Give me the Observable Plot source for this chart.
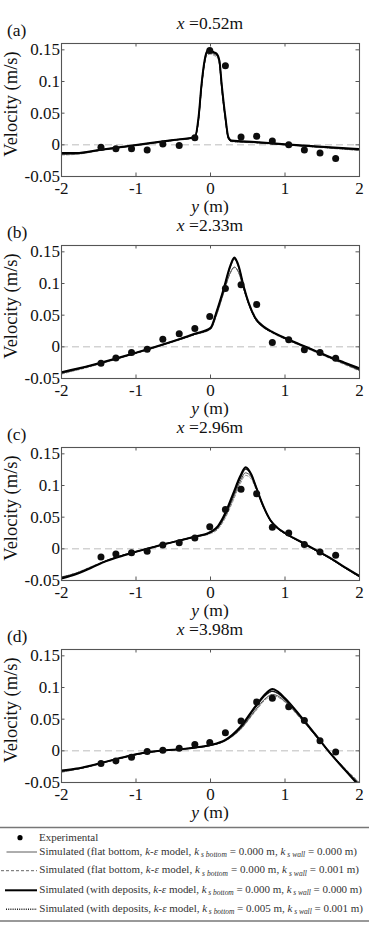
<!DOCTYPE html>
<html>
<head>
<meta charset="utf-8">
<script src="https://cdn.jsdelivr.net/npm/d3@7"></script>
<script src="https://cdn.jsdelivr.net/npm/@observablehq/plot@0.6"></script>
<style>
  html, body { margin: 0; padding: 0; background: #fff; }
  #page { position: relative; width: 369px; height: 937px; overflow: hidden; font-family: "Liberation Serif", serif; }
  #page > svg { position: absolute; left: 0; }
</style>
</head>
<body>
<div id="page"></div>
<script>
// Cross-stream velocity profiles at four stations along the flume.
const panelLetters = ["(a)", "(b)", "(c)", "(d)"];
const stations = ["0.52", "2.33", "2.96", "3.98"];
const xTicks = [-2, -1, 0, 1, 2];
const yTicks = [-0.05, 0, 0.05, 0.1, 0.15];

// Measurement positions across the channel (m)
const expPos = [-1.47, -1.27, -1.06, -0.85, -0.64, -0.42, -0.21, -0.01, 0.2, 0.41, 0.62, 0.83, 1.05, 1.26, 1.47, 1.68];
const expA = [-0.004, -0.006, -0.006, -0.008, 0.0015, -0.001, 0.011, 0.149, 0.125, 0.0125, 0.0135, 0.006, 0.0, -0.008, -0.013, -0.0215];
const expB = [-0.026, -0.0175, -0.009, -0.004, 0.012, 0.0205, 0.029, 0.048, 0.092, 0.098, 0.067, 0.007, 0.011, -0.0045, -0.009, -0.018];
const expC = [-0.013, -0.008, -0.006, -0.004, 0.006, 0.0095, 0.017, 0.035, 0.062, 0.094, 0.087, 0.034, 0.025, 0.007, -0.005, -0.010];
const expD = [-0.020, -0.016, -0.010, -0.001, 0.001, 0.004, 0.010, 0.013, 0.0285, 0.047, 0.077, 0.083, 0.0695, 0.048, 0.016, -0.002];

// Simulated profiles, station (a)
const simPosA = [-2, -1.8, -1.5, -1.0, -0.5, -0.21, -0.16, -0.12, -0.08, -0.045, 0, 0.05, 0.09, 0.12, 0.15, 0.2, 0.24, 0.28, 0.6, 1.0, 1.5, 2.0];
const flat0A = [-0.015, -0.0145, -0.009, -0.001, 0.007, 0.0115, 0.040, 0.092, 0.129, 0.144, 0.145, 0.143, 0.140, 0.128, 0.090, 0.040, 0.010, 0.0055, 0.0035, 0.0, -0.004, -0.0085];
const flat1A = [-0.016, -0.015, -0.0095, -0.0015, 0.0065, 0.011, 0.038, 0.090, 0.127, 0.142, 0.143, 0.141, 0.138, 0.126, 0.088, 0.038, 0.009, 0.005, 0.003, -0.0005, -0.0045, -0.009];
const dep0A = [-0.013, -0.013, -0.0082, -0.0002, 0.0078, 0.0125, 0.044, 0.096, 0.133, 0.148, 0.148, 0.146, 0.143, 0.133, 0.096, 0.044, 0.012, 0.0068, 0.0045, 0.001, -0.003, -0.0065];
const dep1A = [-0.014, -0.0135, -0.0085, -0.0005, 0.0075, 0.012, 0.042, 0.094, 0.131, 0.146, 0.147, 0.145, 0.142, 0.131, 0.094, 0.042, 0.011, 0.006, 0.004, 0.0005, -0.0035, -0.0075];

// Simulated profiles, station (b)
const simPosB = [-2, -1.6, -1.2, -0.8, -0.4, -0.2, 0, 0.085, 0.175, 0.265, 0.32, 0.377, 0.444, 0.511, 0.6, 0.713, 0.825, 1.0, 1.2, 1.4, 1.6, 1.8, 2.0];
const flat0B = [-0.042, -0.030, -0.017, -0.003, 0.012, 0.020, 0.028, 0.052, 0.085, 0.117, 0.126, 0.118, 0.092, 0.068, 0.045, 0.031, 0.023, 0.013, 0.003, -0.007, -0.017, -0.027, -0.037];
const flat1B = [-0.043, -0.031, -0.0175, -0.0035, 0.0115, 0.0195, 0.0275, 0.051, 0.084, 0.116, 0.125, 0.117, 0.091, 0.067, 0.044, 0.030, 0.022, 0.012, 0.002, -0.008, -0.018, -0.028, -0.038];
const dep0B = [-0.040, -0.029, -0.016, -0.002, 0.013, 0.021, 0.030, 0.057, 0.091, 0.128, 0.141, 0.128, 0.096, 0.070, 0.046, 0.032, 0.024, 0.014, 0.004, -0.006, -0.016, -0.025, -0.034];
const dep1B = [-0.041, -0.0295, -0.0165, -0.0025, 0.0125, 0.0205, 0.029, 0.055, 0.089, 0.126, 0.139, 0.126, 0.095, 0.069, 0.045, 0.031, 0.0235, 0.0135, 0.0035, -0.0065, -0.0165, -0.026, -0.036];

// Simulated profiles, station (c)
const simPosC = [-2, -1.8, -1.6, -1.4, -1.2, -1.0, -0.8, -0.6, -0.4, -0.2, 0, 0.1, 0.2, 0.3, 0.4, 0.47, 0.55, 0.6, 0.7, 0.8, 0.9, 1.0, 1.2, 1.4, 1.6, 1.8, 2.0];
const flat0C = [-0.046, -0.039, -0.029, -0.019, -0.011, -0.0045, 0.0018, 0.008, 0.0135, 0.019, 0.025, 0.033, 0.052, 0.079, 0.107, 0.120, 0.113, 0.099, 0.069, 0.045, 0.032, 0.024, 0.011, -0.002, -0.015, -0.030, -0.044];
const flat1C = [-0.045, -0.038, -0.028, -0.0185, -0.0105, -0.004, 0.002, 0.0082, 0.0135, 0.0188, 0.024, 0.031, 0.049, 0.075, 0.103, 0.116, 0.110, 0.097, 0.068, 0.045, 0.032, 0.024, 0.011, -0.002, -0.015, -0.029, -0.042];
const dep0C = [-0.047, -0.040, -0.030, -0.0195, -0.0116, -0.0047, 0.0016, 0.0079, 0.0137, 0.0195, 0.0268, 0.036, 0.057, 0.086, 0.115, 0.129, 0.117, 0.1016, 0.070, 0.046, 0.033, 0.025, 0.012, -0.001, -0.014, -0.029, -0.043];
const dep1C = [-0.045, -0.0385, -0.029, -0.019, -0.011, -0.0045, 0.0018, 0.008, 0.0137, 0.0195, 0.026, 0.035, 0.055, 0.083, 0.112, 0.126, 0.116, 0.101, 0.070, 0.046, 0.033, 0.0245, 0.0115, -0.0015, -0.0145, -0.0295, -0.044];

// Simulated profiles, station (d)
const simPosD = [-2, -1.8, -1.6, -1.4, -1.2, -1.0, -0.8, -0.6, -0.4, -0.2, 0, 0.2, 0.4, 0.6, 0.75, 0.83, 0.9, 1.0, 1.2, 1.4, 1.6, 1.8, 2.0];
const flat0D = [-0.033, -0.029, -0.024, -0.0175, -0.0115, -0.006, -0.002, 0.0008, 0.0025, 0.005, 0.0085, 0.016, 0.034, 0.064, 0.084, 0.089, 0.087, 0.078, 0.053, 0.025, -0.003, -0.028, -0.052];
const flat1D = [-0.034, -0.0295, -0.0245, -0.018, -0.012, -0.0063, -0.0022, 0.0006, 0.0023, 0.0048, 0.0082, 0.0155, 0.033, 0.062, 0.082, 0.087, 0.085, 0.077, 0.052, 0.025, -0.002, -0.027, -0.050];
const dep0D = [-0.031, -0.028, -0.023, -0.017, -0.011, -0.0054, -0.0016, 0.001, 0.0027, 0.0054, 0.0091, 0.0172, 0.0376, 0.070, 0.0914, 0.0978, 0.094, 0.083, 0.056, 0.027, -0.0027, -0.0296, -0.056];
const dep1D = [-0.032, -0.0285, -0.0235, -0.0172, -0.0112, -0.0057, -0.0018, 0.0009, 0.0026, 0.0052, 0.0089, 0.017, 0.036, 0.068, 0.089, 0.094, 0.091, 0.081, 0.055, 0.026, -0.0025, -0.029, -0.054];

// Legend entries
const legendCases = ["flat bottom", "flat bottom", "with deposits", "with deposits"];
const legendKsBottom = ["0.000", "0.000", "0.000", "0.005"];
const legendKsWall = ["0.000", "0.001", "0.000", "0.001"];

const panels = [
  {exp: expA, pos: simPosA, sims: [flat0A, flat1A, dep0A, dep1A]},
  {exp: expB, pos: simPosB, sims: [flat0B, flat1B, dep0B, dep1B]},
  {exp: expC, pos: simPosC, sims: [flat0C, flat1C, dep0C, dep1C]},
  {exp: expD, pos: simPosD, sims: [flat0D, flat1D, dep0D, dep1D]}
];

// line styles: flat/0, flat/0.001, deposits/0, deposits/0.005
const lineStyles = [
  {stroke: "#4a4a4a", strokeWidth: 1},
  {stroke: "#8c8c8c", strokeWidth: 1, strokeDasharray: "3,2"},
  {stroke: "#000", strokeWidth: 2},
  {stroke: "#1a1a1a", strokeWidth: 1.5, strokeDasharray: "1,1.2"}
];
const drawOrder = [1, 0, 3, 2];

const W = 369, ML = 61, MR = 10, MT = 5, IH = 133, MB = 45;
const IW = W - ML - MR;
const STEP = 202;
const font = "'Liberation Serif', 'Times New Roman', serif";
const fmt = d => String(d);

const page = document.getElementById("page");

// Overlay for titles, panel letters, axis labels and legend
const overlay = d3.select(page).append("svg")
  .attr("width", W).attr("height", 937)
  .style("top", "0px")
  .style("font-family", font)
  .attr("fill", "#111");

panels.forEach((p, i) => {
  const off = STEP * i;
  const marks = [Plot.ruleY([0], {stroke: "#bdbdbd", strokeWidth: 1, strokeDasharray: "7,4"})];
  drawOrder.forEach(k => {
    const rows = p.sims[k].map((v, j) => ({y: p.pos[j], v}));
    marks.push(Plot.line(rows, {x: "y", y: "v", curve: "monotone-x", clip: true, ...lineStyles[k]}));
  });
  marks.push(Plot.dot(p.exp.map((v, j) => ({y: expPos[j], v})), {x: "y", y: "v", r: 3.5, fill: "#0d0d0d", stroke: "none"}));
  marks.push(Plot.frame({stroke: "#555", strokeWidth: 1.1}));
  marks.push(Plot.tickX(xTicks, {x: d => d, insetTop: IH - 3.5, stroke: "#555"}));
  marks.push(Plot.tickX(xTicks, {x: d => d, insetBottom: IH - 3.5, stroke: "#555"}));
  marks.push(Plot.tickY(yTicks, {y: d => d, insetRight: IW - 3.5, stroke: "#555"}));
  marks.push(Plot.tickY(yTicks, {y: d => d, insetLeft: IW - 3.5, stroke: "#555"}));
  marks.push(Plot.axisX({ticks: xTicks, tickFormat: fmt, tickSize: 0, tickPadding: 5.5, label: null, fontSize: 17, fill: "#111"}));
  marks.push(Plot.axisY({ticks: yTicks, tickFormat: fmt, tickSize: 0, tickPadding: 1.5, label: null, fontSize: 17, fill: "#111"}));

  const chart = Plot.plot({
    width: W, height: MT + IH + MB,
    marginLeft: ML, marginRight: MR, marginTop: MT, marginBottom: MB,
    x: {domain: [-2, 2]},
    y: {domain: [-0.05, 0.16]},
    style: {fontFamily: font, fontSize: "17px", background: "transparent", color: "#111", overflow: "visible"},
    marks
  });
  chart.style.top = (38 + off) + "px";
  page.appendChild(chart);

  // station title
  const t = overlay.append("text").attr("x", ML + IW / 2).attr("y", 29 + off)
    .attr("text-anchor", "middle").attr("font-size", 17.5);
  t.append("tspan").attr("font-style", "italic").text("x");
  t.append("tspan").text(" =" + stations[i] + "m");

  overlay.append("text").attr("x", 7).attr("y", 36 + off).attr("font-size", 17.5).text(panelLetters[i]);

  const xl = overlay.append("text").attr("x", ML + IW / 2).attr("y", 212 + off)
    .attr("text-anchor", "middle").attr("font-size", 17.5);
  xl.append("tspan").attr("font-style", "italic").text("y");
  xl.append("tspan").text(" (m)");

  overlay.append("text")
    .attr("transform", `translate(16.5,${104 + off}) rotate(-90)`)
    .attr("text-anchor", "middle").attr("font-size", 18.5)
    .text("Velocity (m/s)");
});

// Legend
const lg = overlay.append("g").attr("font-size", 11).attr("fill", "#333");
lg.append("line").attr("x1", 0).attr("x2", W).attr("y1", 827.5).attr("y2", 827.5).attr("stroke", "#777").attr("stroke-width", 1.5);
lg.append("line").attr("x1", 0).attr("x2", W).attr("y1", 921).attr("y2", 921).attr("stroke", "#777").attr("stroke-width", 1.5);
lg.append("circle").attr("cx", 20).attr("cy", 837.7).attr("r", 2.6).attr("fill", "#000");
lg.append("text").attr("x", 39).attr("y", 841).text("Experimental");

const rowLineY = [852, 870.7, 890.3, 909.3];
const rowX1 = [6.5, 1, 5, 6];
const rowRight = [357, 359, 362, 363];
[0, 1, 2, 3].forEach(k => {
  const s = lineStyles[k];
  const y = rowLineY[k];
  lg.append("line").attr("x1", rowX1[k]).attr("x2", 37).attr("y1", y).attr("y2", y)
    .attr("stroke", k === 1 ? "#555" : s.stroke)
    .attr("stroke-width", s.strokeWidth === 1 ? 0.9 : s.strokeWidth)
    .attr("stroke-dasharray", s.strokeDasharray || null);
  const t = lg.append("text").attr("x", 39.3).attr("y", y + 2.5);
  t.append("tspan").text(`Simulated (${legendCases[k]}, `);
  t.append("tspan").attr("font-style", "italic").text("k");
  t.append("tspan").text("-");
  t.append("tspan").attr("font-style", "italic").text("ε");
  t.append("tspan").text(" model, ");
  t.append("tspan").attr("font-style", "italic").text("k");
  t.append("tspan").attr("font-style", "italic").attr("font-size", 7.5).attr("dy", 2.5).text(" s bottom");
  t.append("tspan").attr("dy", -2.5).text(` = ${legendKsBottom[k]} m, `);
  t.append("tspan").attr("font-style", "italic").text("k");
  t.append("tspan").attr("font-style", "italic").attr("font-size", 7.5).attr("dy", 2.5).text(" s wall");
  t.append("tspan").attr("dy", -2.5).text(` = ${legendKsWall[k]} m)`);
  // spread the row so it ends at its right edge
  const node = t.node();
  const len = node.getComputedTextLength();
  const chars = node.textContent.length;
  const target = rowRight[k] - 39.3;
  if (chars > 1) t.attr("letter-spacing", ((target - len) / (chars - 1)).toFixed(3));
});
</script>
</body>
</html>
